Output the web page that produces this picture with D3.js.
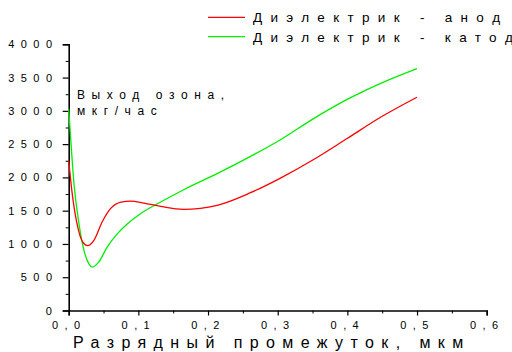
<!DOCTYPE html>
<html><head><meta charset="utf-8">
<script src="https://cdn.jsdelivr.net/npm/d3@7"></script>
<style>body{margin:0;background:#fff}svg{display:block}text{font-family:"Liberation Sans",Arial,sans-serif;fill:#000}</style>
</head><body><svg id="c" width="512" height="352"></svg>
<script>
const seriesNames = ["Диэлектрик - анод", "Диэлектрик - катод"];
const seriesColors = ["#ff0000", "#00ee00"];
const anodeX = [0,0.005,0.012,0.020,0.027,0.036,0.048,0.060,0.075,0.089,0.108,0.132,0.165,0.213,0.261,0.304,0.351,0.399,0.447,0.5];
const anodeY = [2250,1760,1300,1030,975,1050,1330,1530,1630,1645,1615,1565,1520,1580,1770,1990,2265,2580,2900,3205];
const cathodeX = [0,0.003,0.0076,0.0148,0.022,0.029,0.034,0.043,0.055,0.070,0.084,0.103,0.132,0.165,0.213,0.261,0.304,0.351,0.399,0.447,0.5];
const cathodeY = [3030,2560,1900,1300,900,700,652,726,950,1155,1300,1455,1630,1815,2056,2316,2566,2880,3168,3410,3635];
const xTicks = [0,0.1,0.2,0.3,0.4,0.5,0.6];
const xTickLabels = ["0,0","0,1","0,2","0,3","0,4","0,5","0,6"];
const yTicks = [0,500,1000,1500,2000,2500,3000,3500,4000];
const yTickLabels = ["0","500","1000","1500","2000","2500","3000","3500","4000"];
const yTitle = ["Выход озона,", "мкг/час"];
const xTitle = "Разрядный промежуток, мкм";

const svg = d3.select("#c");
const x = d3.scaleLinear().domain([0,0.6]).range([68.7,486.7]);
const y = d3.scaleLinear().domain([0,4000]).range([310.5,44.3]);

// axes
const xAxis = d3.axisBottom(x).tickValues(xTicks).tickSize(5).tickFormat((d,i)=>xTickLabels[i]);
const gx = svg.append("g").attr("transform",`translate(0,${y(0)})`).call(xAxis);
gx.select(".domain").attr("stroke","#000").attr("stroke-width",1.6);
gx.selectAll(".tick line").attr("stroke-width",1.2);
gx.selectAll(".tick text").attr("font-size",11).attr("letter-spacing",6.4).attr("dy",null).attr("y",18.5)
  .attr("font-family",'"Liberation Sans",Arial,sans-serif').attr("fill","#222");
const xMinor = d3.axisBottom(x).tickValues([0.05,0.15,0.25,0.35,0.45,0.55]).tickSize(3).tickFormat("");
const gxm = svg.append("g").attr("transform",`translate(0,${y(0)})`).call(xMinor);
gxm.select(".domain").remove();

const yAxis = d3.axisLeft(y).tickValues(yTicks).tickSize(6).tickFormat((d,i)=>yTickLabels[i]);
const gy = svg.append("g").attr("transform",`translate(${x(0)},0)`).call(yAxis);
gy.select(".domain").attr("stroke","#000").attr("stroke-width",1.6);
gy.selectAll(".tick line").attr("stroke-width",1.2);
gy.selectAll(".tick text").attr("font-size",11).attr("letter-spacing",6.4).attr("x",-10.3)
  .attr("font-family",'"Liberation Sans",Arial,sans-serif').attr("fill","#222");
const yMinor = d3.axisLeft(y).tickValues([250,750,1250,1750,2250,2750,3250,3750]).tickSize(3).tickFormat("");
const gym = svg.append("g").attr("transform",`translate(${x(0)},0)`).call(yMinor);
gym.select(".domain").remove();

// lines
const line = d3.line().x(d=>x(d[0])).y(d=>y(d[1])).curve(d3.curveMonotoneX);
const series = [d3.zip(anodeX, anodeY), d3.zip(cathodeX, cathodeY)];
svg.selectAll("path.s").data([1,0]).join("path").attr("class","s")
  .attr("d",i=>line(series[i])).attr("fill","none").attr("stroke",i=>seriesColors[i]).attr("stroke-width",1.3);

// legend
const lg = svg.append("g");
seriesNames.forEach((n,i)=>{
  const yy = 17.3 + i*19.4;
  lg.append("line").attr("x1",208).attr("x2",245).attr("y1",yy).attr("y2",yy).attr("stroke",seriesColors[i]).attr("stroke-width",1.3);
  const t = lg.append("text").attr("x",253).attr("y",yy+4.8).attr("font-size",13.5).attr("letter-spacing",8.3).attr("fill","#222");
  t.append("tspan").text(n.slice(0,-1));
  t.append("tspan").attr("letter-spacing",0).text(n.slice(-1));
});

// y title
yTitle.forEach((t,i)=>{
  svg.append("text").attr("x",77).attr("y",99.3+i*16).attr("font-size",12).attr("letter-spacing",6.6).attr("fill","#222").text(t);
});
// x title
svg.append("text").attr("x",73).attr("y",348.3).attr("font-size",16).attr("letter-spacing",7.4).attr("fill","#222").text(xTitle);
</script></body></html>
